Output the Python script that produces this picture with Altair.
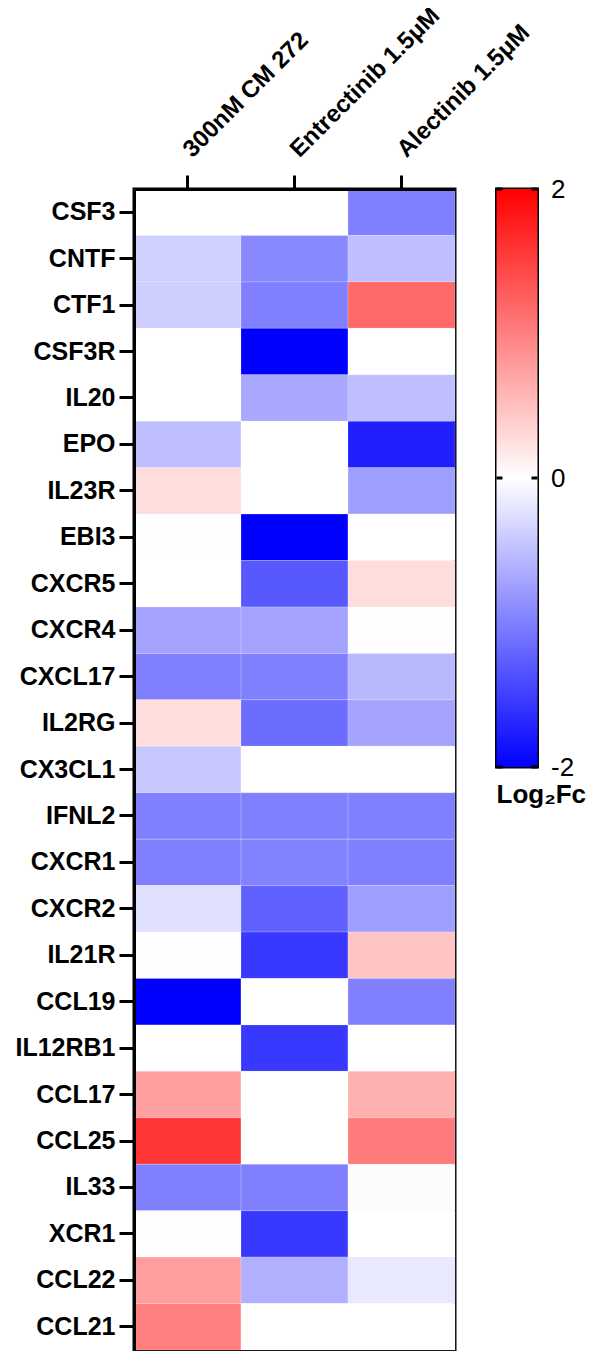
import altair as alt
import pandas as pd

genes = ["CSF3", "CNTF", "CTF1", "CSF3R", "IL20", "EPO", "IL23R", "EBI3", "CXCR5",
         "CXCR4", "CXCL17", "IL2RG", "CX3CL1", "IFNL2", "CXCR1", "CXCR2", "IL21R",
         "CCL19", "IL12RB1", "CCL17", "CCL25", "IL33", "XCR1", "CCL22", "CCL21"]
treatments = ["300nM CM 272", "Entrectinib 1.5μM", "Alectinib 1.5μM"]

cm272 = [0.0, -0.37, -0.38, 0.0, 0.0, -0.5, 0.27, -0.01, 0.0,
         -0.71, -1.0, 0.27, -0.43, -1.0, -1.0, -0.24, -0.01,
         -2.0, 0.0, 0.75, 1.58, -1.0, -0.01, 0.76, 1.0]
entrectinib = [0.0, -0.93, -1.0, -2.0, -0.68, 0.0, 0.0, -2.0, -1.31,
               -0.71, -1.0, -1.15, 0.0, -1.0, -0.98, -1.25, -1.56,
               0.0, -1.56, 0.0, 0.0, -1.0, -1.56, -0.62, 0.0]
alectinib = [-1.0, -0.5, 1.18, 0.0, -0.5, -1.75, -0.75, 0.0, 0.27,
             -0.01, -0.56, -0.71, 0.0, -1.0, -1.0, -0.75, 0.46,
             -1.0, 0.0, 0.62, 1.04, -0.02, 0.0, -0.18, 0.0]
colorbar_range = [-2, 2]
colorbar_ticks = [-2, 0, 2]
colors = ["#0000ff", "#ffffff", "#ff0000"]

rows = []
for series, vals in zip(treatments, [cm272, entrectinib, alectinib]):
    for g, v in zip(genes, vals):
        rows.append({"gene": g, "treatment": series, "value": v})
df = pd.DataFrame(rows)

FONT = "Liberation Sans"

heat = alt.Chart(df).mark_rect(
    stroke="white", strokeWidth=1, strokeOpacity=0.2
).encode(
    x=alt.X("treatment:N", sort=treatments,
            scale=alt.Scale(paddingInner=0, paddingOuter=0),
            axis=alt.Axis(orient="top", title=None, labelAngle=-45,
                          labelAlign="left", labelBaseline="alphabetic",
                          labelPadding=17, labelOffset=5, labelLimit=0,
                          labelFont=FONT, labelFontSize=24, labelFontWeight="bold",
                          labelColor="black", tickColor="black", tickWidth=3,
                          tickSize=14, domainColor="black", domainWidth=3)),
    y=alt.Y("gene:N", sort=genes,
            scale=alt.Scale(paddingInner=0, paddingOuter=0),
            axis=alt.Axis(title=None, labelFont=FONT, labelFontSize=25,
                          labelFontWeight="bold", labelColor="black",
                          labelPadding=4, tickColor="black", tickWidth=3,
                          tickSize=15, domainColor="black", domainWidth=3)),
    color=alt.Color("value:Q",
                    scale=alt.Scale(domain=[colorbar_range[0], 0, colorbar_range[1]],
                                    range=colors, interpolate="rgb"),
                    legend=None),
).properties(width=321, height=1161)

bar_df = pd.DataFrame({"lo": [colorbar_range[0]], "hi": [colorbar_range[1]]})
tick_df = pd.DataFrame({"t": colorbar_ticks})

cb_scale = alt.Scale(domain=colorbar_range, nice=False, zero=False)

grad = alt.Chart(bar_df).mark_rect(
    fill=alt.Gradient(
        gradient="linear",
        stops=[alt.GradientStop(color=colors[2], offset=0),
               alt.GradientStop(color=colors[1], offset=0.5),
               alt.GradientStop(color=colors[0], offset=1)],
        x1=0, x2=0, y1=0, y2=1),
).encode(
    y=alt.Y("lo:Q", scale=cb_scale,
            axis=alt.Axis(orient="right", title=None, values=colorbar_ticks,
                          domain=False, ticks=False, grid=False,
                          labelFlush=False, labelPadding=13,
                          labelFont=FONT, labelFontSize=26, labelColor="black",
                          labelExpr="datum.value < 0 ? '-' + abs(datum.value) : '' + datum.value")),
    y2="hi:Q",
)

zero_ticks = alt.Chart(tick_df).mark_rule(
    color="black", strokeWidth=3, strokeDash=[6, 29]
).encode(y=alt.Y("t:Q", scale=cb_scale))

colorbar = alt.layer(grad, zero_ticks).properties(
    width=41, height=578,
    title=alt.TitleParams("Log₂Fc", orient="bottom", anchor="start", frame="group",
                          font=FONT, fontSize=26, fontWeight="bold", color="black",
                          offset=2),
)

chart = alt.hconcat(heat, colorbar, spacing=41.5, bounds="flush").properties(
    padding={"left": 5, "top": -7, "right": 0, "bottom": 5},
).configure_view(
    stroke="black", strokeWidth=3
)

chart.save("out.html", embed_options={"renderer": "svg", "actions": False})
